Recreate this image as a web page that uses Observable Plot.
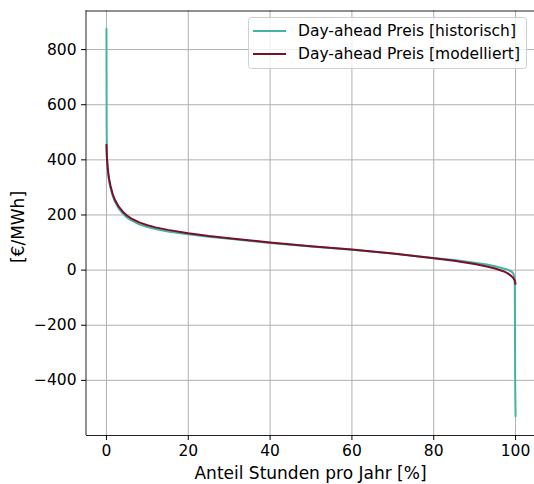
<!DOCTYPE html>
<html><head><meta charset="utf-8">
<script src="https://cdn.jsdelivr.net/npm/d3@7"></script>
<script src="https://cdn.jsdelivr.net/npm/@observablehq/plot@0.6"></script>
<style>body{margin:0;background:#fff} #chart{position:relative;width:534px;height:484px;overflow:hidden}</style>
</head><body><div id="chart"></div>
<script>
const seriesNames = ["Day-ahead Preis [historisch]", "Day-ahead Preis [modelliert]"];
const seriesColors = ["#44b3a3", "#7a0f28"];
const xTicks = [0, 20, 40, 60, 80, 100];
const yTicks = [-400, -200, 0, 200, 400, 600, 800];

const xHist = [0, 0.02, 0.05, 0.1, 0.2, 0.4, 0.7, 1, 1.5, 2, 3, 4, 5, 6, 8, 10, 12, 15, 20, 25, 30, 40, 50, 60, 70, 80, 85, 90, 93, 95, 97, 98, 99, 99.5, 99.7, 99.8, 99.85, 99.9, 100];
const yHist = [875, 720, 520, 420, 385, 348, 318, 298, 270, 250, 223, 205, 191, 181, 166, 156, 149, 140, 130, 121, 114, 98, 86, 74, 60, 44, 37, 27, 20, 14, 6, 2, -5, -14, -26, -40, -150, -400, -530];

const xModel = [0, 0.1, 0.3, 0.6, 1, 1.5, 2, 3, 4, 5, 6, 8, 10, 12, 15, 20, 25, 30, 40, 50, 60, 70, 80, 85, 90, 93, 95, 97, 98, 99, 99.5, 99.8, 100];
const yModel = [455, 410, 372, 335, 305, 277, 257, 230, 212, 198, 188, 173, 163, 155, 146, 134, 124, 116, 100, 87, 75, 60, 43, 34, 22, 13, 6, -4, -11, -22, -30, -38, -50];

const hist = xHist.map((x, i) => ({x, y: yHist[i]}));
const model = xModel.map((x, i) => ({x, y: yModel[i]}));
const fmt = d => d < 0 ? "\u2212" + (-d) : String(d);

const plot = Plot.plot({
  width: 534, height: 484,
  marginLeft: 86, marginRight: 0, marginTop: 10, marginBottom: 49,
  style: {fontFamily: "DejaVu Sans", fontSize: "15.5px", color: "#000", background: "#fff", overflow: "visible"},
  x: {domain: [-5, 105], range: [85.5, 535.5]},
  y: {domain: [-600, 940], range: [435, 10.5]},
  marks: [
    Plot.gridX(xTicks, {stroke: "#b0b0b0", strokeOpacity: 1, strokeWidth: 1}),
    Plot.gridY(yTicks, {stroke: "#b0b0b0", strokeOpacity: 1, strokeWidth: 1}),
    Plot.line(hist, {x: "x", y: "y", stroke: seriesColors[0], strokeWidth: 2}),
    Plot.line(model, {x: "x", y: "y", stroke: seriesColors[1], strokeWidth: 2}),
    Plot.ruleX([-5], {stroke: "#222", strokeWidth: 1}),
    Plot.ruleY([-600], {stroke: "#222", strokeWidth: 1}),
    Plot.ruleY([940], {stroke: "#222", strokeWidth: 1}),
    Plot.axisX(xTicks, {tickSize: 5, tickPadding: 4, tickFormat: fmt, label: null, fontSize: 15.5}),
    Plot.axisY(yTicks, {tickSize: 5, tickPadding: 5, tickFormat: fmt, label: null, fontSize: 15.5}),
    Plot.text(["Anteil Stunden pro Jahr [%]"], {frameAnchor: "bottom", dy: 38, lineAnchor: "middle", fontSize: 17}),
    Plot.text(["[€/MWh]"], {frameAnchor: "left", dx: -67.5, dy: 4, rotate: -90, textAnchor: "middle", lineAnchor: "middle", fontSize: 17})
  ]
});
document.getElementById("chart").appendChild(plot);

// legend
const svg = d3.select(plot);
const lg = svg.append("g").attr("font-family", "DejaVu Sans").attr("font-size", 15.5).attr("text-anchor", "start");
lg.append("rect").attr("x", 248.5).attr("y", 17.5).attr("width", 278).attr("height", 51)
  .attr("rx", 3).attr("fill", "#fff").attr("fill-opacity", 0.8).attr("stroke", "#d0d0d0");
seriesNames.forEach((name, i) => {
  const y = 31 + i * 23;
  lg.append("line").attr("x1", 253).attr("x2", 286).attr("y1", y).attr("y2", y)
    .attr("stroke", seriesColors[i]).attr("stroke-width", 2);
  lg.append("text").attr("x", 298).attr("y", y).attr("dy", "0.35em").attr("fill", "#000").text(name);
});
</script></body></html>
